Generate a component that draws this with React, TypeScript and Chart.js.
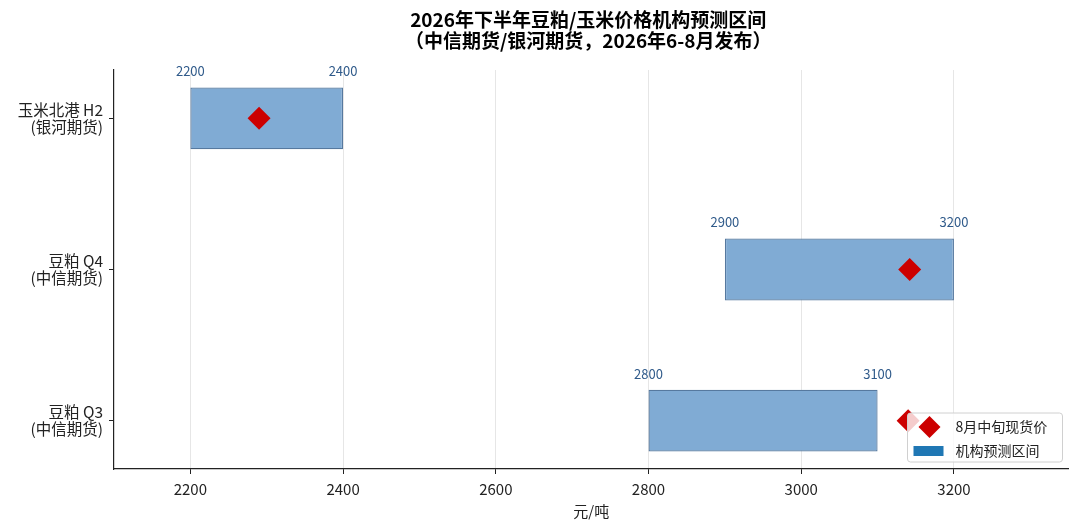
import React, { useEffect, useRef } from "react";
import { Chart, registerables } from "chart.js";

Chart.register(...registerables);

const titleLines = ["2026年下半年豆粕/玉米价格机构预测区间", "（中信期货/银河期货，2026年6-8月发布）"];
const categories = ["玉米北港 H2", "豆粕 Q4", "豆粕 Q3"];
const sources = ["(银河期货)", "(中信期货)", "(中信期货)"];
const lows = [2200, 2900, 2800];
const highs = [2400, 3200, 3100];
const spotPrices = [2290, 3142, 3140];
const xTicks = [2200, 2400, 2600, 2800, 3000, 3200];
const xAxisTitle = "元/吨";
const legendLabels = ["8月中旬现货价", "机构预测区间"];

const FONT = '"Noto Sans CJK SC", "Noto Sans", sans-serif';
const BAR_FILL = "#80abd4";
const BAR_EDGE = "#56799f";
const SPOT = "#cc0000";

const overlayPlugin = {
  id: "overlay",
  afterDatasetsDraw(chart: any) {
    const { ctx, scales } = chart;
    const meta = chart.getDatasetMeta(0);
    ctx.save();
    ctx.font = `13px ${FONT}`;
    ctx.fillStyle = "#2f5a8a";
    ctx.textAlign = "center";
    ctx.textBaseline = "middle";
    meta.data.forEach((el: any, i: number) => {
      const top = el.y - el.height / 2;
      ctx.fillText(String(lows[i]), scales.x.getPixelForValue(lows[i]), top - 16);
      ctx.fillText(String(highs[i]), scales.x.getPixelForValue(highs[i]), top - 16);
    });
    ctx.restore();
  },
  afterDraw(chart: any) {
    const { ctx, chartArea } = chart;
    ctx.save();
    const cx = (chartArea.left + chartArea.right) / 2 - 3;
    ctx.font = `bold 19px ${FONT}`;
    ctx.fillStyle = "#000";
    ctx.textAlign = "center";
    ctx.textBaseline = "middle";
    ctx.fillText(titleLines[0], cx, 20);
    ctx.fillText(titleLines[1], cx, 41);

    const w = 155, h = 49;
    const x0 = chartArea.right - 6 - w;
    const y0 = chartArea.bottom - 7 - h;
    ctx.beginPath();
    const r = 3;
    ctx.moveTo(x0 + r, y0);
    ctx.arcTo(x0 + w, y0, x0 + w, y0 + h, r);
    ctx.arcTo(x0 + w, y0 + h, x0, y0 + h, r);
    ctx.arcTo(x0, y0 + h, x0, y0, r);
    ctx.arcTo(x0, y0, x0 + w, y0, r);
    ctx.closePath();
    ctx.fillStyle = "rgba(255,255,255,0.8)";
    ctx.fill();
    ctx.strokeStyle = "#d0d0d0";
    ctx.lineWidth = 1;
    ctx.stroke();

    const mx = x0 + 22, my1 = y0 + 14, my2 = y0 + 38;
    ctx.beginPath();
    const d = 11;
    ctx.moveTo(mx - d, my1);
    ctx.lineTo(mx, my1 - d);
    ctx.lineTo(mx + d, my1);
    ctx.lineTo(mx, my1 + d);
    ctx.closePath();
    ctx.fillStyle = SPOT;
    ctx.fill();
    ctx.fillStyle = "#1f77b4";
    ctx.fillRect(x0 + 6, my2 - 5, 30, 10);

    ctx.fillStyle = "#222";
    ctx.font = `14px ${FONT}`;
    ctx.textAlign = "left";
    ctx.textBaseline = "middle";
    ctx.fillText(legendLabels[0], x0 + 48, my1);
    ctx.fillText(legendLabels[1], x0 + 48, my2);
    ctx.restore();
  },
};

export default function App() {
  const ref = useRef<HTMLCanvasElement>(null);
  useEffect(() => {
    document.body.style.margin = "0";
    const chart = new Chart(ref.current as HTMLCanvasElement, {
      type: "bar",
      data: {
        datasets: [
          {
            type: "bar",
            label: legendLabels[1],
            indexAxis: "y",
            data: categories.map((_, i) => ({ x: [lows[i], highs[i]], y: i })) as any,
            backgroundColor: BAR_FILL,
            borderColor: BAR_EDGE,
            borderWidth: 1.3,
            borderSkipped: false,
            barPercentage: 0.41,
            categoryPercentage: 1,
            order: 2,
          } as any,
          {
            type: "scatter",
            label: legendLabels[0],
            data: categories.map((_, i) => ({ x: spotPrices[i], y: i })),
            pointStyle: "rectRot",
            pointRadius: 11.5,
            backgroundColor: SPOT,
            borderWidth: 0,
            order: 1,
          } as any,
        ],
      },
      options: {
        responsive: false,
        animation: false,
        events: [],
        layout: { padding: { left: 0, right: 8, top: 70, bottom: 0 } },
        plugins: { legend: { display: false }, tooltip: { enabled: false }, title: { display: false } },
        scales: {
          x: {
            type: "linear",
            position: "bottom",
            offset: false,
            min: 2100,
            max: 3350,
            afterBuildTicks: (s: any) => {
              s.ticks = xTicks.map((v) => ({ value: v }));
            },
            afterFit: (s: any) => {
              s.height = 63;
            },
            grid: { offset: false, color: "#e6e6e6", lineWidth: 1, tickColor: "#222", tickLength: 5 },
            border: { display: true, color: "#222", width: 1.2 },
            ticks: {
              color: "#222",
              font: { family: FONT, size: 15 },
              padding: 6,
              callback: (v: any) => String(v),
            },
            title: {
              display: true,
              text: xAxisTitle,
              color: "#222",
              font: { family: FONT, size: 15 },
              padding: { top: 0, bottom: 12 },
            },
          },
          y: {
            type: "linear",
            position: "left",
            offset: false,
            reverse: true,
            min: -0.32,
            max: 2.32,
            afterBuildTicks: (s: any) => {
              s.ticks = categories.map((_, i) => ({ value: i }));
            },
            afterFit: (s: any) => {
              s.width = 114;
            },
            grid: { offset: false, drawOnChartArea: false, tickColor: "#222", tickLength: 5 },
            border: { display: true, color: "#222", width: 1.2 },
            ticks: {
              color: "#222",
              font: { family: FONT, size: 15.5, lineHeight: 1.07 },
              padding: 6,
              callback: (v: any) => [categories[v], sources[v]],
            },
          },
        },
      } as any,
      plugins: [overlayPlugin],
    });
    return () => chart.destroy();
  }, []);
  return (
    <div style={{ width: 1080, height: 532 }}>
      <canvas ref={ref} width={1080} height={532} />
    </div>
  );
}
